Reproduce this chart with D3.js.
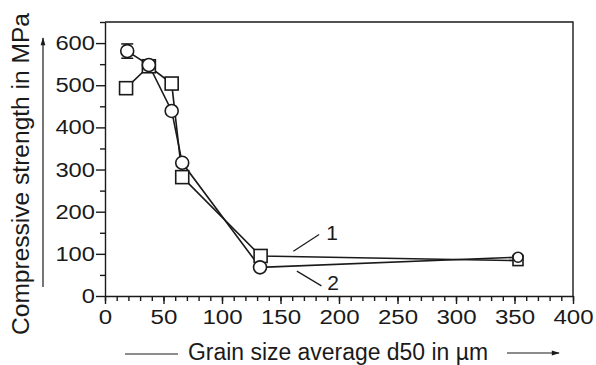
<!DOCTYPE html>
<html>
<head>
<meta charset="utf-8">
<script src="https://cdn.jsdelivr.net/npm/d3@7"></script>
<style>
  body { margin: 0; background: #fff; }
  svg { display: block; font-family: "Liberation Sans", Arial, sans-serif; }
  .axis path, .axis line { stroke: #1a1a1a; stroke-width: 1.4; }
  .axis text { font-size: 20.5px; fill: #1a1a1a; }
</style>
</head>
<body>
<div id="chart"></div>
<script>
// --- data ---
const grainSize1 = [18, 37.5, 57, 66, 133, 353];        // series 1 (squares)
const strength1  = [493, 545, 504, 282, 95, 84];
const grainSize2 = [19, 37.5, 57, 66, 132.5, 353];      // series 2 (circles)
const strength2  = [581, 548, 439, 316, 68, 92];
const errorBar2  = [17, 0, 0, 0, 0, 0];
const xTicks = [0, 50, 100, 150, 200, 250, 300, 350, 400];
const yTicks = [0, 100, 200, 300, 400, 500, 600];
const seriesLabels = ["1", "2"];
const labelPos = [[194, 151], [195, 33]];
const leaderLines = [[[161, 106], [183, 146]], [[164, 59], [185, 24]]];

const W = 596, H = 365;
const margin = { top: 22, right: 23, bottom: 69, left: 105 };
const iw = W - margin.left - margin.right;
const ih = H - margin.top - margin.bottom;

const svg = d3.select("#chart").append("svg")
    .attr("width", W).attr("height", H);

const x = d3.scaleLinear().domain([0, 400]).range([margin.left, margin.left + iw]);
const y = d3.scaleLinear().domain([0, 650]).range([margin.top + ih, margin.top]);

// arrow marker
svg.append("defs").append("marker")
    .attr("id", "arr").attr("viewBox", "0 0 10 10")
    .attr("refX", 9).attr("refY", 5)
    .attr("markerUnits", "userSpaceOnUse")
    .attr("markerWidth", 10).attr("markerHeight", 8)
    .attr("orient", "auto")
    .append("path").attr("d", "M0,2 L10,5 L0,8 Z").attr("fill", "#1a1a1a");

// frame (top + right)
svg.append("path")
    .attr("d", `M${x(0)},${y(650)} H${x(400)} V${y(0)}`)
    .attr("fill", "none").attr("stroke", "#1a1a1a").attr("stroke-width", 1.4);

// minor ticks
const xAxisMinor = svg.append("g").attr("class", "axis")
    .attr("transform", `translate(0,${y(0)})`)
    .call(d3.axisBottom(x).tickValues(d3.range(0, 401, 10)).tickSize(5).tickFormat(""));
xAxisMinor.select(".domain").remove();
const yAxisMinor = svg.append("g").attr("class", "axis")
    .attr("transform", `translate(${x(0)},0)`)
    .call(d3.axisLeft(y).tickValues(d3.range(50, 651, 100)).tickSize(5).tickFormat(""));
yAxisMinor.select(".domain").remove();

// major axes
const xAxis = svg.append("g").attr("class", "axis")
    .attr("transform", `translate(0,${y(0)})`)
    .call(d3.axisBottom(x).tickValues(xTicks).tickSize(8).tickPadding(5).tickSizeOuter(0));
xAxis.selectAll("text")
    .attr("textLength", d => String(d).length * 13.4)
    .attr("lengthAdjust", "spacingAndGlyphs");

const yAxis = svg.append("g").attr("class", "axis")
    .attr("transform", `translate(${x(0)},0)`)
    .call(d3.axisLeft(y).tickValues(yTicks).tickSize(9).tickPadding(1).tickSizeOuter(0));
yAxis.selectAll("text")
    .attr("textLength", d => String(d).length * 13.2)
    .attr("lengthAdjust", "spacingAndGlyphs");

// axis titles
svg.append("text")
    .attr("transform", "translate(29,335) rotate(-90)")
    .attr("textLength", 322).attr("lengthAdjust", "spacingAndGlyphs")
    .attr("font-size", 23).attr("fill", "#1a1a1a")
    .text("Compressive strength in MPa");
svg.append("line")
    .attr("x1", 43).attr("y1", 287).attr("x2", 43).attr("y2", 38)
    .attr("stroke", "#1a1a1a").attr("stroke-width", 1.2).attr("marker-end", "url(#arr)");

svg.append("text")
    .attr("x", 188).attr("y", 360)
    .attr("textLength", 300).attr("lengthAdjust", "spacingAndGlyphs")
    .attr("font-size", 23).attr("fill", "#1a1a1a")
    .text("Grain size average d50 in µm");
svg.append("line")
    .attr("x1", 125).attr("y1", 354).attr("x2", 178).attr("y2", 354)
    .attr("stroke", "#1a1a1a").attr("stroke-width", 1.2);
svg.append("line")
    .attr("x1", 507).attr("y1", 353).attr("x2", 559).attr("y2", 353)
    .attr("stroke", "#1a1a1a").attr("stroke-width", 1.2).attr("marker-end", "url(#arr)");

// series lines
const s1 = grainSize1.map((g, i) => ({ g, v: strength1[i] }));
const s2 = grainSize2.map((g, i) => ({ g, v: strength2[i], e: errorBar2[i] }));
const line = d3.line().x(d => x(d.g)).y(d => y(d.v));

[s1, s2].forEach(s => {
    svg.append("path").datum(s)
        .attr("d", line)
        .attr("fill", "none").attr("stroke", "#1a1a1a").attr("stroke-width", 1.6);
});

// error bars
const eb = svg.append("g").attr("stroke", "#1a1a1a").attr("stroke-width", 1.5);
s2.filter(d => d.e > 0).forEach(d => {
    eb.append("line").attr("x1", x(d.g)).attr("x2", x(d.g)).attr("y1", y(d.v - d.e)).attr("y2", y(d.v + d.e));
    eb.append("line").attr("x1", x(d.g) - 6).attr("x2", x(d.g) + 6).attr("y1", y(d.v + d.e)).attr("y2", y(d.v + d.e));
    eb.append("line").attr("x1", x(d.g) - 6).attr("x2", x(d.g) + 6).attr("y1", y(d.v - d.e)).attr("y2", y(d.v - d.e));
});

// markers (the last points are drawn a bit smaller, as in the picture)
const mSize = (i) => (i === 5 ? 5 : 6.5);
svg.selectAll(".sq").data(s1).join("rect")
    .attr("class", "sq")
    .attr("x", (d, i) => x(d.g) - mSize(i)).attr("y", (d, i) => y(d.v) - mSize(i))
    .attr("width", (d, i) => 2 * mSize(i)).attr("height", (d, i) => 2 * mSize(i))
    .attr("fill", "#fff").attr("stroke", "#1a1a1a").attr("stroke-width", 1.6);
svg.selectAll(".ci").data(s2).join("circle")
    .attr("class", "ci")
    .attr("cx", d => x(d.g)).attr("cy", d => y(d.v)).attr("r", (d, i) => mSize(i))
    .attr("fill", "#fff").attr("stroke", "#1a1a1a").attr("stroke-width", 1.6);

// series labels with leader lines
leaderLines.forEach(l => {
    svg.append("line")
        .attr("x1", x(l[0][0])).attr("y1", y(l[0][1]))
        .attr("x2", x(l[1][0])).attr("y2", y(l[1][1]))
        .attr("stroke", "#1a1a1a").attr("stroke-width", 1.2);
});
seriesLabels.forEach((t, i) => {
    svg.append("text")
        .attr("x", x(labelPos[i][0])).attr("y", y(labelPos[i][1]))
        .attr("dy", "0.36em").attr("text-anchor", "middle")
        .attr("font-size", 21).attr("fill", "#1a1a1a")
        .text(t);
});
</script>
</body>
</html>
